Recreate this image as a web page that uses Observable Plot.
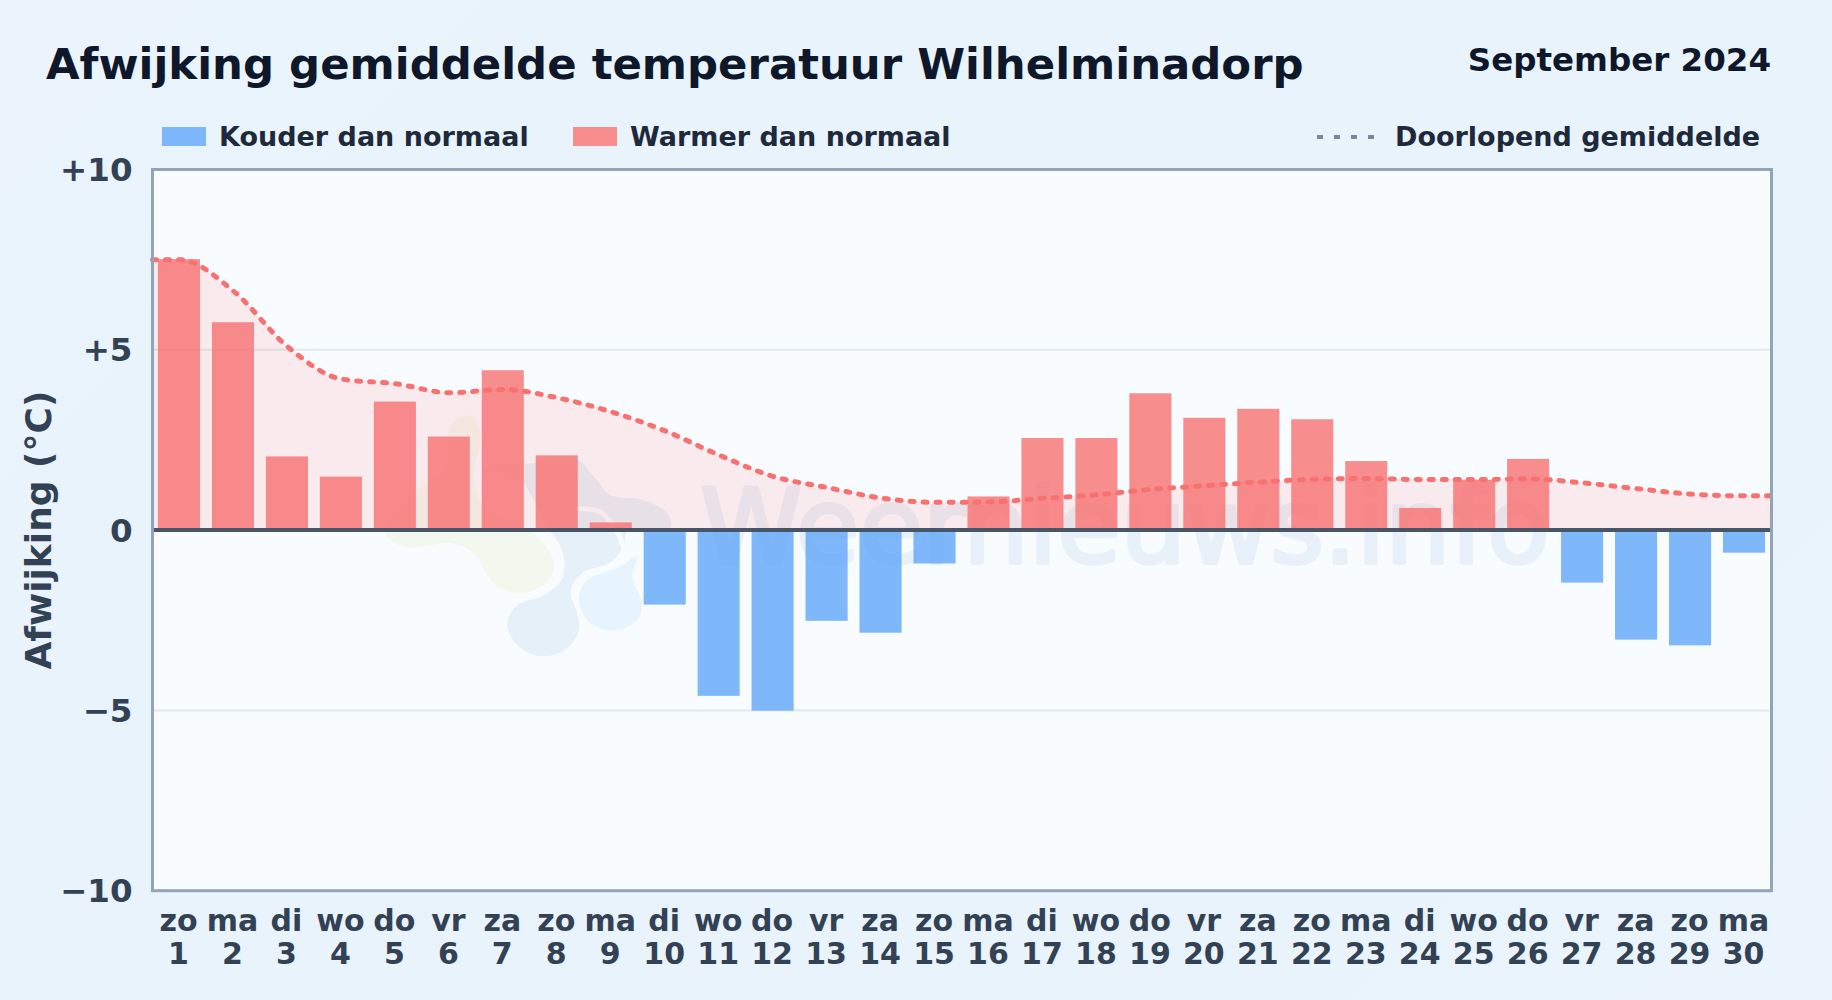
<!DOCTYPE html>
<html lang="nl"><head><meta charset="utf-8">
<script src="https://cdn.jsdelivr.net/npm/d3@7"></script>
<script src="https://cdn.jsdelivr.net/npm/@observablehq/plot@0.6"></script>
<style>
html,body{margin:0;padding:0;width:1832px;height:1000px;overflow:hidden;background:linear-gradient(135deg,#ebf4fc 0%,#e8f3fc 25%,#e8f3fc 75%,#ebf4fc 100%);font-family:"DejaVu Sans",sans-serif;}
#page{position:relative;width:1832px;height:1000px}
.t{position:absolute;font-weight:700;white-space:nowrap;line-height:1}
#title{left:46px;top:43px;font-size:43.4px;color:#0f172a}
#month{right:61px;top:44px;font-size:32.5px;color:#0f172a}
.leg{top:123px;font-size:27px;color:#1e293b}
.sw{position:absolute;top:127px;width:44px;height:19px}
#dash{position:absolute;left:1317px;top:135px;width:57px;height:4px;background:repeating-linear-gradient(90deg,#64748b 0 6px,transparent 6px 17px);opacity:.85}
#chart{position:absolute;left:0;top:152px}
svg{display:block;background:transparent}
</style></head><body>
<div id="page">
<div id="title" class="t">Afwijking gemiddelde temperatuur Wilhelminadorp</div>
<div id="month" class="t">September 2024</div>
<div class="sw" style="left:162px;background:#7eb6fb"></div>
<div class="t leg" style="left:219px">Kouder dan normaal</div>
<div class="sw" style="left:573px;background:#f88d8d"></div>
<div class="t leg" style="left:630px">Warmer dan normaal</div>
<div id="dash"></div>
<div class="t leg" style="left:1395px">Doorlopend gemiddelde</div>
<div id="chart"></div>
</div>
<script>
const days = d3.range(1, 31);
const weekdays = ["zo","ma","di","wo","do","vr","za","zo","ma","di","wo","do","vr","za","zo","ma","di","wo","do","vr","za","zo","ma","di","wo","do","vr","za","zo","ma"];
const anomaly = [7.5,5.75,2.03,1.47,3.55,2.58,4.42,2.06,0.2,-2.08,-4.61,-5.02,-2.53,-2.86,-0.94,0.92,2.54,2.54,3.78,3.1,3.35,3.06,1.9,0.6,1.38,1.96,-1.47,-3.05,-3.21,-0.64];
const runningMean = [7.5,6.63,5.09,4.19,4.06,3.81,3.9,3.67,3.28,2.75,2.08,1.49,1.18,0.89,0.77,0.78,0.88,0.98,1.13,1.23,1.33,1.41,1.43,1.4,1.4,1.42,1.31,1.15,1.0,0.95];
const yTicks = [-10,-5,0,5,10];
const yLabels = ["−10","−5","0","+5","+10"];
const barHalf = 0.39;

const bars = days.map((d,i)=>({day:d,value:anomaly[i]}));
const meanLine = [{day:0.5,value:runningMean[0]},...days.map((d,i)=>({day:d,value:runningMean[i]})),{day:30.5,value:runningMean[29]}];

// faint watermark logo blobs, [day, degrees]
const blobGrey = [[7.07,-2.59],[7.26,-2.08],[7.69,-1.85],[8.06,-1.43],[8.13,-0.83],[8.0,-0.28],[7.87,-0.05],[7.57,0.83],[7.32,1.39],[6.82,1.62],[6.6,1.6],[6.9,1.8],[7.5,1.85],[8.37,1.94],[8.68,1.48],[8.99,0.97],[9.6,0.83],[10.04,0.46],[10.1,0.05],[9.3,-0.05],[9.23,-0.46],[8.96,-0.92],[8.49,-1.16],[8.25,-1.66],[8.37,-2.31],[8.4,-2.77],[8.18,-3.28],[7.72,-3.5],[7.26,-3.19]];
const blobGreen = [[4.79,-0.05],[5.16,-0.46],[6.08,-0.37],[6.45,-0.65],[6.82,-1.48],[7.32,-1.76],[7.81,-1.43],[7.94,-0.92],[7.69,-0.28],[7.38,0.09],[6.7,0.55],[6.45,1.39],[6.58,2.68],[6.39,3.19],[6.02,2.87],[5.93,1.76],[5.4,1.11],[4.97,0.46]];
const blobLight = [[8.4,-1.94],[8.55,-1.39],[9.11,-1.06],[9.48,-0.74],[9.39,-1.29],[9.57,-2.03],[9.48,-2.5],[9.05,-2.79],[8.62,-2.59]];
const logoGap = [[8.37,0.6],[8.8,0.5],[9.11,-0.05],[9.23,-0.5]];

const plot = Plot.plot({
  width:1832, height:848,
  marginLeft:152, marginRight:61, marginTop:17, marginBottom:109.8,
  style:{background:"transparent",fontFamily:"DejaVu Sans, sans-serif",overflow:"visible"},
  x:{domain:[0.5,30.5]},
  y:{domain:[-10,10]},
  marks:[
    Plot.frame({fill:"#f8fcff"}),
    Plot.line(blobGreen,{x:"0",y:"1",curve:"catmull-rom-closed",fill:"#f3f8ef",stroke:"none"}),
    Plot.line(blobGrey,{x:"0",y:"1",curve:"catmull-rom-closed",fill:"#e6f0f8",stroke:"none"}),
    Plot.line(blobLight,{x:"0",y:"1",curve:"catmull-rom-closed",fill:"#e8f4fd",stroke:"none"}),
    Plot.line(logoGap,{x:"0",y:"1",curve:"catmull-rom",stroke:"#f8fcff",strokeWidth:5}),
    Plot.text(["Weernieuws.info"],{x:18.52,y:-0.9,text:d=>d,lineAnchor:"bottom",fontSize:103,fill:"#e8f1fa",stroke:"#e8f1fa",strokeWidth:4}),
    Plot.ruleY([-5,5],{stroke:"#e2e8f0",strokeWidth:2}),
    Plot.areaY(meanLine,{x:"day",y1:0,y2:"value",curve:"monotone-x",fill:"#f87171",fillOpacity:0.13}),
    Plot.rectY(bars,{x1:d=>d.day-barHalf,x2:d=>d.day+barHalf,y1:0,y2:"value",fill:d=>d.value<0?"#60a5fa":"#f87171",fillOpacity:0.8}),
    Plot.line(meanLine,{x:"day",y:"value",curve:"monotone-x",stroke:"#f87171",strokeWidth:5,strokeDasharray:"4 9",strokeLinecap:"round"}),
    Plot.ruleY([0],{stroke:"#475569",strokeWidth:4}),
    Plot.frame({stroke:"#94a3b8",strokeWidth:3}),
    Plot.axisY({ticks:yTicks,tickFormat:d=>yLabels[yTicks.indexOf(d)],tickSize:0,tickPadding:20,dy:1,fontSize:32.5,fontWeight:700,fill:"#334155",label:null}),
    Plot.axisX({ticks:days,tickFormat:d=>`${weekdays[d-1]}\n${d}`,tickSize:0,tickPadding:17.5,dx:-1,fontSize:30,fontWeight:700,fill:"#334155",lineHeight:1.09,label:null}),
    Plot.text(["Afwijking (°C)"],{x:0.5,y:0,text:d=>d,rotate:-90,dx:-113,fontSize:36,fontWeight:700,fill:"#334155"})
  ]
});
document.getElementById("chart").append(plot);
</script>
</body></html>
